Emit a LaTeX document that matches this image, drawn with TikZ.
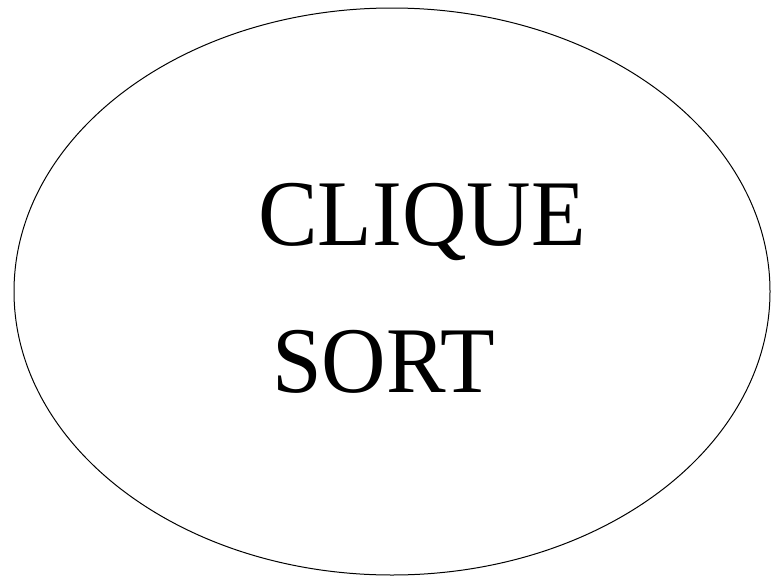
\documentclass[tikz,border=0pt]{standalone}
\usepackage{fontspec}
\setmainfont{Liberation Serif}
\usetikzlibrary{shapes.geometric}

\tikzset{
  sortbox/.style={draw, ellipse, line width=1pt, inner sep=0pt,
    minimum width=756pt, minimum height=567pt},
  bigword/.style={anchor=base west, inner sep=0pt, xscale=0.95,
    transform shape, font=\fontsize{94}{94}\selectfont}
}

\begin{document}
\begin{tikzpicture}[x=1pt, y=1pt]
  \useasboundingbox (0,0) rectangle (771,-576);
  % Nodes
  \node[sortbox] (box) at (392,-291.5) {};
  \node[bigword] (clique) at (258,-245) {CLIQUE};
  \node[bigword] (sort) at (272,-392.7) {SORT};
\end{tikzpicture}
\end{document}
